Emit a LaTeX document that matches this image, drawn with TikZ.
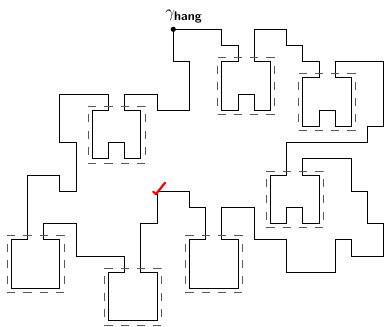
\documentclass[tikz,border=0pt]{standalone}
\usepackage{amsmath}
\begin{document}
\begin{tikzpicture}[x=16.2bp,y=-16.2bp,
  walk/.style={draw=black,line width=0.9pt,line join=miter},
  blockbox/.style={draw=black!65,line width=0.9pt,dash pattern=on 8.1bp off 8.1bp},
  tick/.style={draw=red,line width=2.2pt,line cap=round,line join=round}]
\useasboundingbox (-0.6975,-1.809) rectangle (23.006,18.315);
% closed lattice walk
\draw[walk] (10,0) -- (13,0) -- (13,1) -- (14,1) -- (14,2) -- (13,2) -- (13,5) -- (14,5) -- (14,4) -- (15,4) -- (15,5) -- (16,5) -- (16,2) -- (15,2) -- (15,0)
 -- (17,0) -- (17,1) -- (18,1) -- (18,2) -- (19,2) -- (19,3) -- (18,3) -- (18,6) -- (19,6) -- (19,5) -- (20,5) -- (20,6) -- (21,6) -- (21,3) -- (20,3) -- (20,2)
 -- (23,2) -- (23,6) -- (22,6) -- (22,7) -- (17,7) -- (17,9) -- (16,9) -- (16,12) -- (17,12) -- (17,11) -- (18,11) -- (18,12) -- (19,12) -- (19,9) -- (18,9) -- (18,8)
 -- (21,8) -- (21,10) -- (22,10) -- (22,12) -- (23,12) -- (23,14) -- (21,14) -- (21,13) -- (20,13) -- (20,15) -- (17,15) -- (17,13) -- (15,13) -- (15,11) -- (13,11)
 -- (13,13) -- (14,13) -- (14,16) -- (11,16) -- (11,13) -- (12,13) -- (12,11) -- (11,11) -- (11,10) -- (9,10) -- (9,12) -- (8,12) -- (8,15) -- (9,15) -- (9,18)
 -- (6,18) -- (6,15) -- (7,15) -- (7,14) -- (4,14) -- (4,12) -- (2,12) -- (2,13) -- (3,13) -- (3,16) -- (0,16) -- (0,13) -- (1,13) -- (1,9) -- (3,9) -- (3,10)
 -- (4,10) -- (4,7) -- (3,7) -- (3,4) -- (6,4) -- (6,5) -- (5,5) -- (5,8) -- (6,8) -- (6,7) -- (7,7) -- (7,8) -- (8,8) -- (8,5) -- (7,5) -- (7,4) -- (9,4)
 -- (9,5) -- (11,5) -- (11,2) -- (10,2) -- cycle;
% dashed boxes around blocks
\foreach \a/\b in {5/5, 13/2, 18/3, 16/9, 0/13, 6/15, 11/13}{
  \draw[blockbox] (\a-0.25,\b+3.25) -- (\a+3.25,\b+3.25) -- (\a+3.25,\b-0.25) -- (\a-0.25,\b-0.25) -- cycle;
}
% start point and label
\coordinate (start) at (10,0);
\fill[black] (start) circle[radius=0.16];
\node[anchor=base west,inner sep=0pt,font=\fontsize{18}{20}\selectfont] (lab) at (9.5,-0.74) {$\gamma_{\text{\sffamily\bfseries hang}}$};
% red check mark
\coordinate (chk) at (9,10);
\draw[tick] ([shift={(-0.24,0.02)}]chk) -- ([shift={(-0.07,0.17)}]chk) -- ([shift={(0.49,-0.53)}]chk);
\end{tikzpicture}
\end{document}
